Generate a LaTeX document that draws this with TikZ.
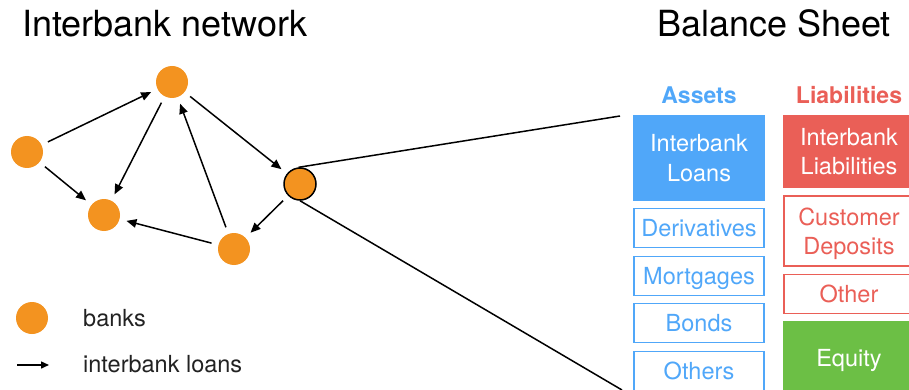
\documentclass[tikz,border=0pt]{standalone}
\usepackage{fontspec}
\setmainfont{TeX Gyre Heros}
\usetikzlibrary{arrows.meta}
\definecolor{bankorange}{RGB}{243,147,32}
\definecolor{assetblue}{RGB}{80,167,249}
\definecolor{liabred}{RGB}{234,95,87}
\definecolor{equitygreen}{RGB}{108,191,69}
\definecolor{legendtext}{RGB}{34,34,34}
\tikzset{
  bank/.style={circle,fill=bankorange,minimum size=32pt,inner sep=0pt},
  loan/.style={-{Triangle[length=10pt,width=8.5pt]},line width=1.5pt,shorten >=7pt,shorten <=7pt},
  link/.style={line width=1.5pt},
  bodytext/.style={font=\fontsize{23.5}{29.5}\selectfont,align=center,inner sep=0pt},
  oneline/.style={text height=17pt,text depth=0pt},
  title/.style={font=\fontsize{36}{40}\selectfont,inner sep=0pt},
  header/.style={font=\fontsize{23}{28}\selectfont\bfseries,inner sep=0pt},
  legendlabel/.style={font=\fontsize{23.5}{28}\selectfont,text=legendtext,inner sep=0pt,anchor=west,text height=17pt,text depth=0pt},
  assetbox/.style={draw=assetblue,line width=1.5pt,text=assetblue,minimum width=130pt,bodytext},
  assetfill/.style={fill=assetblue,text=white,minimum width=132pt,bodytext},
  liabbox/.style={draw=liabred,line width=1.5pt,text=liabred,minimum width=130pt,bodytext},
  liabfill/.style={fill=liabred,text=white,minimum width=132pt,bodytext},
  equityfill/.style={fill=equitygreen,text=white,minimum width=132pt,bodytext},
}
\begin{document}
\begin{tikzpicture}[x=1pt,y=-1pt]
\useasboundingbox (0,0) rectangle (909,390);
\clip (0,0) rectangle (909,390);
% titles
\node[title,anchor=base west] (t1) at (22,37) {Interbank network};
\node[title,anchor=base east] (t2) at (891,37) {Balance Sheet};
% banks
\node[bank] (A) at (27,152) {};
\node[bank] (B) at (172,82) {};
\node[bank] (C) at (104,215) {};
\node[bank] (D) at (234,249) {};
\node[bank,draw=black,line width=1.5pt] (E) at (300,184) {};
% loans
\draw[loan] (A) -- (B);
\draw[loan] (A) -- (C);
\draw[loan] (B) -- (C);
\draw[loan] (B) -- (E);
\draw[loan] (D) -- (B);
\draw[loan] (D) -- (C);
\draw[loan] (E) -- (D);
% zoom lines
\coordinate (zt) at (620,116);
\coordinate (zb) at (622,390);
\draw[link] (E.95) -- (zt);
\draw[link] (E.-90) -- (zb);
% legend
\node[bank] (L1) at (32,318) {};
\node[legendlabel] (L1t) at (83,318) {banks};
\coordinate (L2s) at (17,365);
\coordinate (L2e) at (49,365);
\draw[-{Triangle[length=8pt,width=7pt]},line width=1.5pt] (L2s) -- (L2e);
\node[legendlabel] (L2t) at (83,364) {interbank loans};
% headers
\node[header,text=assetblue,anchor=base] (ha) at (699,104) {Assets};
\node[header,text=liabred,anchor=base] (hl) at (849,104) {Liabilities};
% assets
\node[assetfill,minimum height=86pt] (a1) at (699,158) {Interbank\\Loans};
\node[assetbox,oneline,minimum height=39pt] (a2) at (699,228) {Derivatives};
\node[assetbox,oneline,minimum height=39pt] (a3) at (699,276) {Mortgages};
\node[assetbox,oneline,minimum height=39pt] (a4) at (699,323) {Bonds};
\node[assetbox,oneline,minimum height=39pt] (a5) at (699,371) {Others};
% liabilities
\node[liabfill,minimum height=73pt] (l1) at (849,151.5) {Interbank\\Liabilities};
\node[liabbox,minimum height=70pt] (l2) at (849,231) {Customer\\\smash{Deposits}};
\node[liabbox,oneline,minimum height=39pt] (l3) at (849,294) {Other};
\node[equityfill,oneline,minimum height=74pt] (l4) at (849,358) {Equity};
\end{tikzpicture}
\end{document}
